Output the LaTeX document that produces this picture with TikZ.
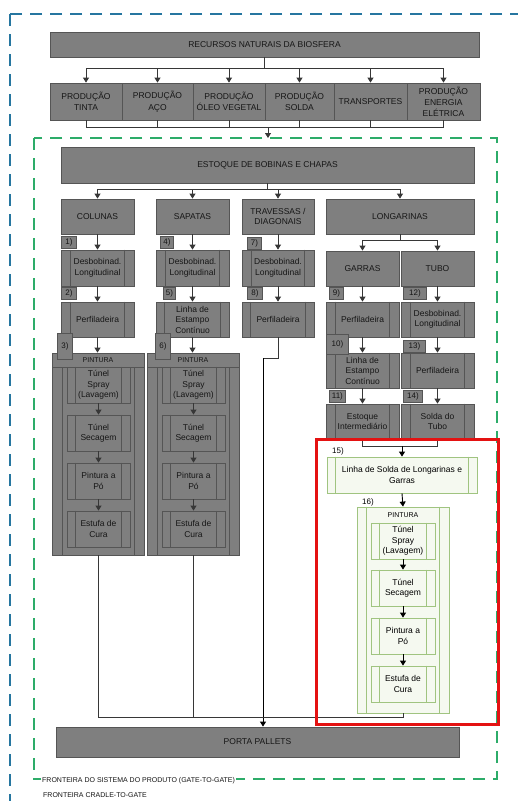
\documentclass[tikz,border=0pt]{standalone}
\usepackage{fontspec}
\setmainfont{Liberation Sans}
\usetikzlibrary{arrows.meta}
\definecolor{gfill}{RGB}{127,127,127}
\definecolor{gline}{RGB}{85,85,85}
\definecolor{gtext}{RGB}{22,22,22}
\definecolor{arr}{RGB}{55,55,55}
\definecolor{lgfill}{RGB}{245,249,240}
\definecolor{lgline}{RGB}{160,196,128}
\definecolor{gdash}{RGB}{45,172,105}
\definecolor{bdash}{RGB}{38,118,160}
\definecolor{redc}{RGB}{228,18,18}
\tikzset{
  gbox/.style={draw=gline, fill=gfill, text=gtext, line width=0.8pt, inner sep=1pt, align=center, font=\fontsize{8.5}{10.5}\selectfont},
  lbox/.style={draw=lgline, fill=lgfill, text=black, line width=0.8pt, inner sep=1pt, align=center, font=\fontsize{8.5}{10.5}\selectfont},
  tagbox/.style={draw=gline, fill=gfill, text=gtext, line width=0.8pt, inner sep=0pt, anchor=south west, font=\fontsize{8}{9}\selectfont, minimum height=12pt},
  con/.style={draw=arr, line width=0.8pt},
  arw/.style={con, -{Triangle[width=6pt,length=5pt]}},
  arwk/.style={draw=black, line width=0.9pt, -{Triangle[width=6pt,length=5pt]}},
  gsl/.style={draw=gline, line width=0.8pt},
  lsl/.style={draw=lgline, line width=0.8pt},
}
\newcommand\mybox[7]{%
  \pgfmathsetmacro\mbcx{(#3+#5)/2}\pgfmathsetmacro\mbcy{(#4+#6)/2}%
  \pgfmathsetmacro\mbw{#5-#3}\pgfmathsetmacro\mbh{#6-#4}%
  \node[#1, minimum width=\mbw pt, minimum height=\mbh pt] (#2) at (\mbcx,\mbcy) {#7};}
\newcommand\sidel[3]{\draw[#1] ([xshift=#3 pt]#2.north west) -- ([xshift=#3 pt]#2.south west) ([xshift=-#3 pt]#2.north east) -- ([xshift=-#3 pt]#2.south east);}
\begin{document}
\begin{tikzpicture}[x=1pt,y=-1pt]
\useasboundingbox (0,0) rectangle (518,801);
\fill[white] (0,0) rectangle (518,801);
% boundaries
\draw[bdash, line width=1.5pt, dash pattern=on 12pt off 8pt] (10,14) rectangle (540,830);
\draw[gdash, line width=1.5pt, dash pattern=on 12pt off 8pt] (34,138) rectangle (497,779);
\node[anchor=west, fill=white, inner sep=1pt, font=\fontsize{7}{8}\selectfont, text=gtext] (fs) at (41,781) {FRONTEIRA DO SISTEMA DO PRODUTO (GATE-TO-GATE)};
\node[anchor=west, fill=white, inner sep=1pt, font=\fontsize{7}{8}\selectfont, text=gtext] (fc) at (42,795) {FRONTEIRA CRADLE-TO-GATE};

% top
\mybox{gbox}{rec}{50}{32}{479}{57}{RECURSOS NATURAIS DA BIOSFERA}
\mybox{gbox, font=\fontsize{8.5}{11.5}\selectfont}{p1}{50}{83}{122}{120}{PRODUÇÃO\\TINTA}
\mybox{gbox, font=\fontsize{8.5}{11.5}\selectfont}{p2}{122}{83}{193}{120}{PRODUÇÃO\\AÇO}
\mybox{gbox, font=\fontsize{8.5}{11.5}\selectfont}{p3}{193}{83}{265}{120}{PRODUÇÃO\\ÓLEO VEGETAL}
\mybox{gbox, font=\fontsize{8.5}{11.5}\selectfont}{p4}{265}{83}{334}{120}{PRODUÇÃO\\SOLDA}
\mybox{gbox, font=\fontsize{8.5}{11.5}\selectfont}{p5}{334}{83}{407}{120}{TRANSPORTES}
\mybox{gbox, font=\fontsize{8.5}{11}\selectfont}{p6}{407}{83}{480}{120}{PRODUÇÃO\\ENERGIA\\ELÉTRICA}
\coordinate (tj) at (264.5,68);
\draw[con] (rec.south) -- (tj);
\draw[con] (tj -| p1.north) -- (tj -| p6.north);
\foreach \k in {p1,p2,p3,p4,p5,p6}{\draw[arw] (tj -| \k.north) -- (\k.north);}
\coordinate (bj) at (268,127);
\foreach \k in {p1,p2,p3,p4,p5,p6}{\draw[con] (\k.south) -- (bj -| \k.south);}
\draw[con] (bj -| p1.south) -- (bj -| p6.south);
\coordinate (gt) at (268,138);
\draw[arw] (bj) -- (gt);

% estoque
\mybox{gbox}{estq}{61}{147}{474}{183}{ESTOQUE DE BOBINAS E CHAPAS}
\mybox{gbox}{col}{61}{199}{134}{234}{COLUNAS}
\mybox{gbox}{sap}{156}{199}{229}{234}{SAPATAS}
\mybox{gbox}{trav}{242}{199}{314}{234}{TRAVESSAS /\\DIAGONAIS}
\mybox{gbox}{long}{326}{199}{474}{234}{LONGARINAS}
\coordinate (ej) at (267.5,189);
\draw[con] (estq.south) -- (ej);
\draw[con] (ej -| col.north) -- (ej -| long.north);
\foreach \k in {col,sap,trav,long}{\draw[arw] (ej -| \k.north) -- (\k.north);}

% row 3
\mybox{gbox}{d1}{61}{250}{134}{286}{Desbobinad.\\Longitudinal}
\mybox{gbox}{d4}{156}{250}{229}{286}{Desbobinad.\\Longitudinal}
\mybox{gbox}{d7}{242}{250}{314}{286}{Desbobinad.\\Longitudinal}
\mybox{gbox}{gar}{326}{251}{399}{286}{GARRAS}
\mybox{gbox}{tubo}{401}{251}{474}{286}{TUBO}
\sidel{gsl}{d1}{10}\sidel{gsl}{d4}{10}\sidel{gsl}{d7}{10}
\coordinate (lj) at (400,240);
\draw[con] (long.south) -- (lj);
\draw[con] (lj -| gar.north) -- (lj -| tubo.north);
\draw[arw] (lj -| gar.north) -- (gar.north);
\draw[arw] (lj -| tubo.north) -- (tubo.north);

% row 4
\mybox{gbox}{pf2}{61}{302}{134}{337}{Perfiladeira}
\mybox{gbox}{le5}{156}{302}{229}{337}{Linha de\\Estampo\\Contínuo}
\mybox{gbox}{pf8}{242}{302}{314}{337}{Perfiladeira}
\mybox{gbox}{pf9}{326}{302}{399}{337}{Perfiladeira}
\mybox{gbox}{d12}{401}{302}{474}{337}{Desbobinad.\\Longitudinal}
\sidel{gsl}{pf2}{10}\sidel{gsl}{le5}{9}\sidel{gsl}{pf8}{9}\sidel{gsl}{pf9}{10}\sidel{gsl}{d12}{10}

% row 5, 6
\mybox{gbox}{le10}{326}{353}{399}{388}{Linha de\\Estampo\\Contínuo}
\mybox{gbox}{pf13}{401}{353}{474}{388}{Perfiladeira}
\mybox{gbox}{est11}{326}{404}{399}{439}{Estoque\\Intermediário}
\mybox{gbox}{sol14}{401}{404}{474}{439}{Solda do\\Tubo}
\sidel{gsl}{le10}{10}\sidel{gsl}{pf13}{10}\sidel{gsl}{est11}{10}\sidel{gsl}{sol14}{10}

% pintura columns
\mybox{gbox}{pin1}{52}{353}{144}{555}{}
\draw[gsl] (62,367) -- (62,555) (134,367) -- (134,555);
\mybox{gbox, font=\fontsize{7}{8}\selectfont}{ph1}{52}{353}{144}{367}{PINTURA}
\mybox{gbox}{a1}{67}{367}{130}{403}{Túnel\\Spray\\(Lavagem)}
\mybox{gbox}{a2}{67}{415}{130}{451}{Túnel\\Secagem}
\mybox{gbox}{a3}{67}{463}{130}{499}{Pintura a\\Pó}
\mybox{gbox}{a4}{67}{511}{130}{547}{Estufa de\\Cura}
\sidel{gsl}{a1}{9}\sidel{gsl}{a2}{9}\sidel{gsl}{a3}{9}\sidel{gsl}{a4}{9}
\draw[arw] (a1.south) -- (a2.north);
\draw[arw] (a2.south) -- (a3.north);
\draw[arw] (a3.south) -- (a4.north);

\mybox{gbox}{pin2}{147}{353}{239}{555}{}
\draw[gsl] (157,367) -- (157,555) (229,367) -- (229,555);
\mybox{gbox, font=\fontsize{7}{8}\selectfont}{ph2}{147}{353}{239}{367}{PINTURA}
\mybox{gbox}{b1}{162}{367}{225}{403}{Túnel\\Spray\\(Lavagem)}
\mybox{gbox}{b2}{162}{415}{225}{451}{Túnel\\Secagem}
\mybox{gbox}{b3}{162}{463}{225}{499}{Pintura a\\Pó}
\mybox{gbox}{b4}{162}{511}{225}{547}{Estufa de\\Cura}
\sidel{gsl}{b1}{9}\sidel{gsl}{b2}{9}\sidel{gsl}{b3}{9}\sidel{gsl}{b4}{9}
\draw[arw] (b1.south) -- (b2.north);
\draw[arw] (b2.south) -- (b3.north);
\draw[arw] (b3.south) -- (b4.north);

% column arrows
\draw[arw] (col.south) -- (d1.north);
\draw[arw] (d1.south) -- (pf2.north);
\draw[arw] (pf2.south) -- (pf2.south |- ph1.north);
\draw[arw] (sap.south) -- (d4.north);
\draw[arw] (d4.south) -- (le5.north);
\draw[arw] (le5.south) -- (le5.south |- ph2.north);
\draw[arw] (trav.south) -- (d7.north);
\draw[arw] (d7.south) -- (pf8.north);
\draw[arw] (gar.south) -- (pf9.north);
\draw[arw] (pf9.south) -- (le10.north);
\draw[arw] (le10.south) -- (est11.north);
\draw[arw] (tubo.south) -- (d12.north);
\draw[arw] (d12.south) -- (pf13.north);
\draw[arw] (pf13.south) -- (sol14.north);

% tags
\node[tagbox, minimum width=15pt] (t1) at (61,249) {1)};
\node[tagbox, minimum width=13pt] (t4) at (160,249) {4)};
\node[tagbox, minimum width=14pt] (t7) at (247,250) {7)};
\node[tagbox, minimum width=15pt] (t2) at (61,300) {2)};
\node[tagbox, minimum width=12pt] (t5) at (163,300) {5)};
\node[tagbox, minimum width=15pt] (t8) at (247,300) {8)};
\node[tagbox, minimum width=14pt] (t9) at (329,300) {9)};
\node[tagbox, minimum width=23pt] (t12) at (403,300) {12)};
\node[tagbox, minimum width=15pt, minimum height=26pt] (t3) at (57,360) {3)};
\node[tagbox, minimum width=15pt, minimum height=26pt] (t6) at (155,360) {6)};
\node[tagbox, minimum width=22pt, minimum height=20pt] (t10) at (326,355) {10)};
\node[tagbox, minimum width=22pt] (t13) at (403,353) {13)};
\node[tagbox, minimum width=16pt] (t11) at (329,403) {11)};
\node[tagbox, minimum width=19pt] (t14) at (403,403) {14)};

% green part
\mybox{lbox}{b15}{327}{457}{477}{493}{Linha de Solda de Longarinas e\\Garras}
\sidel{lsl}{b15}{9}
\node[font=\fontsize{8}{9}\selectfont, inner sep=0pt] (l15) at (338,451) {15)};
\mybox{lbox}{b16}{357}{507}{449}{713}{}
\sidel{lsl}{b16}{10}
\node[font=\fontsize{7}{8}\selectfont, inner sep=0pt] (h16) at (403,515) {PINTURA};
\node[font=\fontsize{8}{9}\selectfont, inner sep=0pt] (l16) at (368,502) {16)};
\mybox{lbox}{c1}{371}{523}{435}{559}{Túnel\\Spray\\(Lavagem)}
\mybox{lbox}{c2}{371}{570}{435}{606}{Túnel\\Secagem}
\mybox{lbox}{c3}{371}{618}{435}{654}{Pintura a\\Pó}
\mybox{lbox}{c4}{371}{666}{435}{702}{Estufa de\\Cura}
\sidel{lsl}{c1}{9}\sidel{lsl}{c2}{9}\sidel{lsl}{c3}{9}\sidel{lsl}{c4}{9}
\draw[arwk] (c1.south) -- (c2.north);
\draw[arwk] (c2.south) -- (c3.north);
\draw[arwk] (c3.south) -- (c4.north);
\coordinate (gj) at (402,446);
\draw[con] (est11.south) -- (est11.south |- gj) -- (sol14.south |- gj) -- (sol14.south);
\draw[arwk] (gj) -- (b15.north);
\draw[arwk] (b15.south) -- (b16.north);

% porta pallets
\mybox{gbox}{porta}{56}{727}{459}{757}{PORTA PALLETS}
\coordinate (tk) at (263,358);
\draw[con] (pf8.south) -- (pf8.south |- tk) -- (tk);
\draw[arwk] (tk) -- (tk |- porta.north);
\coordinate (bb) at (263,717);
\draw[con] (pin1.south) -- (pin1.south |- bb) -- (b16.south |- bb) -- (b16.south);
\draw[con] (pin2.south) -- (pin2.south |- bb);

% red frame
\draw[redc, line width=3pt] (316,439) rectangle (498,724);
\end{tikzpicture}
\end{document}
